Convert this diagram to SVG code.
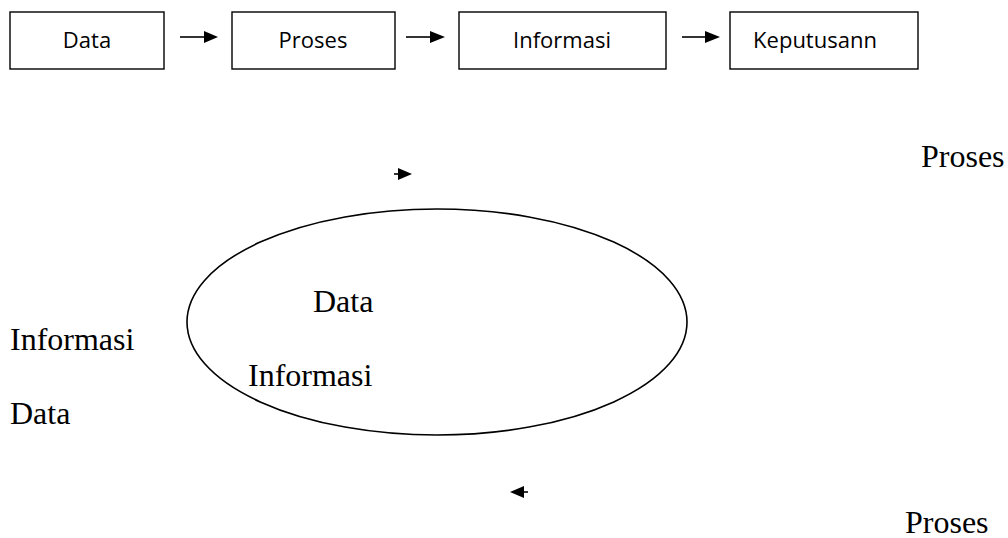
<svg xmlns="http://www.w3.org/2000/svg" width="1008" height="538" viewBox="0 0 1008 538">
<style>
.box{fill:#fff;stroke:#000;stroke-width:1.4}
.lbl{font-family:"Open Sans","DejaVu Sans",sans-serif;font-size:22px;fill:#000;text-anchor:middle}
.ser{font-family:"Liberation Serif","Times New Roman",serif;font-size:32px;fill:#000}
.ln{stroke:#000;stroke-width:1.6;fill:none}
.hd{fill:#000}
</style>
<rect width="1008" height="538" fill="#fff"/>
<g id="node-data"><rect class="box" x="10" y="12" width="154" height="57"/><text class="lbl" x="87" y="48">Data</text></g>
<g id="node-proses"><rect class="box" x="232" y="12" width="163" height="57"/><text class="lbl" x="313" y="48">Proses</text></g>
<g id="node-informasi"><rect class="box" x="459" y="12" width="207" height="57"/><text class="lbl" x="562" y="48">Informasi</text></g>
<g id="node-keputusann"><rect class="box" x="730" y="12" width="188" height="57"/><text class="lbl" x="815" y="48">Keputusann</text></g>
<g id="connectors">
<line class="ln" x1="180" y1="37" x2="205" y2="37"/><polygon class="hd" points="204,31 218,37 204,43"/>
<line class="ln" x1="406" y1="37" x2="431" y2="37"/><polygon class="hd" points="430,31 445,37 430,43"/>
<line class="ln" x1="682" y1="37" x2="706" y2="37"/><polygon class="hd" points="705,31 720,37 705,43"/>
<line class="ln" x1="394" y1="174" x2="399" y2="174"/><polygon class="hd" points="398,168 412,174 398,180"/>
<line class="ln" x1="522" y1="492" x2="528" y2="492"/><polygon class="hd" points="524,486 510,492 524,498"/>
</g>
<g id="node-cycle"><ellipse cx="437" cy="322" rx="250" ry="113" fill="none" stroke="#000" stroke-width="1.6"/>
<text class="ser" x="313" y="312">Data</text>
<text class="ser" x="248" y="386">Informasi</text></g>
<g id="labels">
<text class="ser" x="921" y="167">Proses</text>
<text class="ser" x="10" y="350">Informasi</text>
<text class="ser" x="10" y="424">Data</text>
<text class="ser" x="905" y="533">Proses</text>
</g>
</svg>
